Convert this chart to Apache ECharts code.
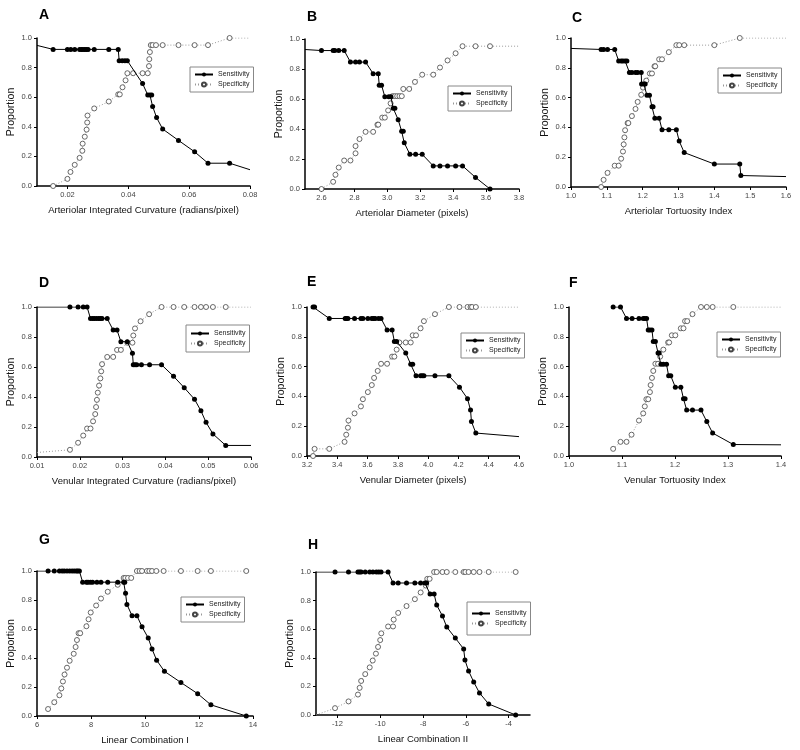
<!DOCTYPE html>
<html><head><meta charset="utf-8">
<script src="https://cdn.jsdelivr.net/npm/echarts@6/dist/echarts.min.js"></script>
<style>html,body{margin:0;padding:0;background:#fff}#c{width:800px;height:750px}</style>
</head><body><div id="c"></div>
<script>
// ---------- DATA ----------
const panelLetters = ['A','B','C','D','E','F','G','H'];
const xTitles = [
  'Arteriolar Integrated Curvature (radians/pixel)',
  'Arteriolar Diameter (pixels)',
  'Arteriolar Tortuosity Index',
  'Venular Integrated Curvature (radians/pixel)',
  'Venular Diameter (pixels)',
  'Venular Tortuosity Index',
  'Linear Combination I',
  'Linear Combination II'
];
const yTicks = [0, 0.2, 0.4, 0.6, 0.8, 1.0];

// x-axis tick labels
const ticksA = [0.02, 0.04, 0.06, 0.08];
const ticksB = [2.6, 2.8, 3.0, 3.2, 3.4, 3.6, 3.8];
const ticksC = [1.0, 1.1, 1.2, 1.3, 1.4, 1.5, 1.6];
const ticksD = [0.01, 0.02, 0.03, 0.04, 0.05, 0.06];
const ticksE = [3.2, 3.4, 3.6, 3.8, 4.0, 4.2, 4.4, 4.6];
const ticksF = [1.0, 1.1, 1.2, 1.3, 1.4];
const ticksG = [6, 8, 10, 12, 14];
const ticksH = [-12, -10, -8, -6, -4];

// Panel A
const sensA_lead = [[0.01, 0.95]];
const sensA = [[0.0153,0.923],[0.02,0.923],[0.0211,0.923],[0.0224,0.923],[0.0240,0.923],[0.0246,0.923],[0.0251,0.923],[0.0257,0.923],[0.0262,0.923],[0.0268,0.923],[0.0288,0.923],[0.0336,0.923],[0.0367,0.923],[0.0370,0.846],[0.0380,0.846],[0.0389,0.846],[0.0397,0.846],[0.0447,0.692],[0.0464,0.615],[0.0471,0.615],[0.0477,0.615],[0.048,0.538],[0.0493,0.462],[0.0513,0.385],[0.0565,0.308],[0.0618,0.231],[0.0662,0.154],[0.0733,0.154]];
const sensA_tail = [[0.08, 0.11]];
const specA_lead = [];
const specA = [[0.0153,0],[0.02,0.048],[0.021,0.095],[0.0224,0.143],[0.024,0.19],[0.0249,0.238],[0.025,0.286],[0.0257,0.333],[0.0263,0.381],[0.0265,0.429],[0.0266,0.476],[0.0288,0.524],[0.0336,0.571],[0.0367,0.619],[0.0372,0.619],[0.0381,0.667],[0.0391,0.714],[0.0397,0.762],[0.0416,0.762],[0.0447,0.762],[0.0464,0.762],[0.0468,0.81],[0.0469,0.857],[0.0471,0.905],[0.0474,0.952],[0.048,0.952],[0.0491,0.952],[0.0513,0.952],[0.0565,0.952],[0.0618,0.952],[0.0662,0.952],[0.0733,1.0]];
const specA_tail = [[0.08, 1.0]];

// Panel B
const sensB_lead = [[2.5, 0.93]];
const sensB = [[2.6,0.923],[2.671,0.923],[2.681,0.923],[2.705,0.923],[2.738,0.923],[2.776,0.846],[2.807,0.846],[2.831,0.846],[2.868,0.846],[2.914,0.769],[2.945,0.769],[2.951,0.692],[2.965,0.692],[2.985,0.615],[3.009,0.615],[3.022,0.615],[3.036,0.538],[3.046,0.538],[3.066,0.462],[3.087,0.385],[3.097,0.385],[3.103,0.308],[3.137,0.231],[3.172,0.231],[3.212,0.231],[3.279,0.154],[3.320,0.154],[3.366,0.154],[3.415,0.154],[3.457,0.154],[3.536,0.077],[3.624,0]];
const sensB_tail = [];
const specB_lead = [];
const specB = [[2.6,0],[2.671,0.048],[2.685,0.095],[2.705,0.143],[2.738,0.19],[2.776,0.19],[2.807,0.238],[2.807,0.286],[2.831,0.333],[2.868,0.381],[2.914,0.381],[2.94,0.429],[2.945,0.429],[2.969,0.476],[2.985,0.476],[3.005,0.524],[3.02,0.571],[3.032,0.619],[3.046,0.619],[3.06,0.619],[3.074,0.619],[3.088,0.619],[3.097,0.667],[3.133,0.667],[3.168,0.714],[3.212,0.762],[3.279,0.762],[3.32,0.81],[3.366,0.857],[3.415,0.905],[3.457,0.952],[3.536,0.952],[3.624,0.952]];
const specB_tail = [[3.8, 0.952]];

// Panel C
const sensC_lead = [[1.0, 0.93]];
const sensC = [[1.084,0.923],[1.091,0.923],[1.102,0.923],[1.122,0.923],[1.133,0.846],[1.140,0.846],[1.145,0.846],[1.151,0.846],[1.156,0.846],[1.163,0.769],[1.170,0.769],[1.180,0.769],[1.186,0.769],[1.196,0.769],[1.197,0.692],[1.203,0.692],[1.207,0.692],[1.212,0.615],[1.219,0.615],[1.226,0.538],[1.229,0.538],[1.234,0.462],[1.246,0.462],[1.254,0.385],[1.273,0.385],[1.294,0.385],[1.302,0.308],[1.316,0.231],[1.4,0.154],[1.471,0.154],[1.474,0.077]];
const sensC_tail = [[1.6, 0.07]];
const specC_lead = [];
const specC = [[1.084,0],[1.091,0.048],[1.102,0.095],[1.122,0.143],[1.133,0.143],[1.140,0.19],[1.145,0.238],[1.147,0.286],[1.149,0.333],[1.151,0.381],[1.158,0.429],[1.160,0.429],[1.170,0.476],[1.180,0.524],[1.186,0.571],[1.196,0.619],[1.201,0.667],[1.210,0.714],[1.220,0.762],[1.226,0.762],[1.233,0.81],[1.235,0.81],[1.246,0.857],[1.254,0.857],[1.273,0.905],[1.294,0.952],[1.302,0.952],[1.316,0.952],[1.4,0.952],[1.471,1.0]];
const specC_tail = [[1.6, 1.0]];

// Panel D
const sensD_lead = [[0.01, 1.0]];
const sensD = [[0.0177,1],[0.0196,1],[0.0208,1],[0.0217,1],[0.0225,0.923],[0.0230,0.923],[0.0234,0.923],[0.0239,0.923],[0.0244,0.923],[0.0248,0.923],[0.0252,0.923],[0.0264,0.923],[0.0278,0.846],[0.0287,0.846],[0.0296,0.769],[0.0311,0.769],[0.0323,0.692],[0.0325,0.615],[0.0329,0.615],[0.0333,0.615],[0.0344,0.615],[0.0363,0.615],[0.0391,0.615],[0.0419,0.538],[0.0444,0.462],[0.0468,0.385],[0.0483,0.308],[0.0495,0.231],[0.0511,0.154],[0.0541,0.077]];
const sensD_tail = [[0.06, 0.077]];
const specD_lead = [[0.01, 0.03]];
const specD = [[0.0177,0.048],[0.0196,0.095],[0.0208,0.143],[0.0217,0.19],[0.0225,0.19],[0.0231,0.238],[0.0236,0.286],[0.0238,0.333],[0.024,0.381],[0.0242,0.429],[0.0245,0.476],[0.0248,0.524],[0.025,0.571],[0.0252,0.619],[0.0264,0.667],[0.0278,0.667],[0.0287,0.714],[0.0296,0.714],[0.0311,0.762],[0.0323,0.762],[0.0325,0.81],[0.0329,0.857],[0.0342,0.905],[0.0362,0.952],[0.0391,1],[0.0419,1],[0.0444,1],[0.0468,1],[0.0483,1],[0.0495,1],[0.0511,1],[0.0541,1]];
const specD_tail = [[0.06, 1.0]];

// Panel E
const sensE_lead = [];
const sensE = [[3.24,1],[3.25,1],[3.347,0.923],[3.452,0.923],[3.459,0.923],[3.47,0.923],[3.514,0.923],[3.556,0.923],[3.569,0.923],[3.602,0.923],[3.628,0.923],[3.639,0.923],[3.65,0.923],[3.672,0.923],[3.689,0.923],[3.729,0.846],[3.762,0.846],[3.777,0.769],[3.792,0.769],[3.852,0.692],[3.885,0.615],[3.898,0.615],[3.92,0.538],[3.95,0.538],[3.961,0.538],[3.972,0.538],[4.045,0.538],[4.137,0.538],[4.207,0.462],[4.26,0.385],[4.28,0.308],[4.286,0.231],[4.315,0.154]];
const sensE_tail = [[4.6, 0.13]];
const specE_lead = [];
const specE = [[3.24,0],[3.25,0.048],[3.347,0.048],[3.448,0.095],[3.459,0.143],[3.47,0.19],[3.474,0.238],[3.514,0.286],[3.556,0.333],[3.569,0.381],[3.602,0.429],[3.628,0.476],[3.643,0.524],[3.667,0.571],[3.689,0.619],[3.729,0.619],[3.762,0.667],[3.777,0.667],[3.792,0.714],[3.81,0.762],[3.852,0.762],[3.885,0.762],[3.898,0.81],[3.92,0.81],[3.95,0.857],[3.972,0.905],[4.045,0.952],[4.137,1],[4.207,1],[4.26,1],[4.28,1],[4.29,1],[4.315,1]];
const specE_tail = [[4.6, 1.0]];

// Panel F
const sensF_lead = [];
const sensF = [[1.0833,1],[1.0972,1],[1.1085,0.923],[1.119,0.923],[1.132,0.923],[1.140,0.923],[1.143,0.923],[1.1464,0.923],[1.1495,0.846],[1.1527,0.846],[1.1565,0.846],[1.159,0.769],[1.163,0.769],[1.168,0.692],[1.170,0.692],[1.1735,0.615],[1.178,0.615],[1.184,0.615],[1.188,0.538],[1.192,0.538],[1.2006,0.462],[1.211,0.462],[1.216,0.385],[1.219,0.385],[1.222,0.308],[1.233,0.308],[1.249,0.308],[1.26,0.231],[1.271,0.154],[1.31,0.077]];
const sensF_tail = [[1.4, 0.075]];
const specF_lead = [];
const specF = [[1.0833,0.048],[1.0972,0.095],[1.1085,0.095],[1.118,0.143],[1.132,0.238],[1.140,0.286],[1.143,0.333],[1.146,0.381],[1.1495,0.381],[1.1527,0.429],[1.154,0.476],[1.1565,0.524],[1.159,0.571],[1.163,0.619],[1.168,0.619],[1.172,0.667],[1.178,0.714],[1.187,0.762],[1.189,0.762],[1.194,0.81],[1.2006,0.81],[1.211,0.857],[1.216,0.857],[1.219,0.905],[1.223,0.905],[1.233,0.952],[1.249,1],[1.26,1],[1.271,1],[1.31,1]];
const specF_tail = [[1.4, 1.0]];

// Panel G
const sensG_lead = [[6, 1.0]];
const sensG = [[6.41,1],[6.64,1],[6.83,1],[6.93,1],[7.01,1],[7.11,1],[7.21,1],[7.30,1],[7.38,1],[7.46,1],[7.51,1],[7.57,1],[7.69,0.923],[7.83,0.923],[7.89,0.923],[7.98,0.923],[8.06,0.923],[8.22,0.923],[8.37,0.923],[8.62,0.923],[8.99,0.923],[9.21,0.923],[9.25,0.923],[9.28,0.846],[9.33,0.769],[9.52,0.692],[9.70,0.692],[9.89,0.615],[10.12,0.538],[10.26,0.462],[10.43,0.385],[10.72,0.308],[11.33,0.231],[11.95,0.154],[12.44,0.077],[13.75,0]];
const sensG_tail = [];
const specG_lead = [];
const specG = [[6.41,0.048],[6.64,0.095],[6.83,0.143],[6.90,0.19],[6.96,0.238],[7.02,0.286],[7.11,0.333],[7.21,0.381],[7.36,0.429],[7.43,0.476],[7.48,0.524],[7.54,0.571],[7.60,0.571],[7.83,0.619],[7.91,0.667],[7.99,0.714],[8.19,0.762],[8.37,0.81],[8.62,0.857],[8.99,0.905],[9.21,0.952],[9.27,0.952],[9.37,0.952],[9.49,0.952],[9.70,1],[9.80,1],[9.89,1],[10.07,1],[10.16,1],[10.26,1],[10.42,1],[10.69,1],[11.33,1],[11.95,1],[12.44,1],[13.75,1]];
const specG_tail = [];

// Panel H
const sensH_lead = [[-13, 1.0]];
const sensH = [[-12.11,1],[-11.48,1],[-11.04,1],[-10.96,1],[-10.89,1],[-10.70,1],[-10.49,1],[-10.34,1],[-10.18,1],[-10.07,1],[-9.96,1],[-9.63,1],[-9.40,0.923],[-9.16,0.923],[-8.77,0.923],[-8.38,0.923],[-8.11,0.923],[-7.91,0.923],[-7.83,0.923],[-7.67,0.846],[-7.48,0.846],[-7.36,0.769],[-7.09,0.692],[-6.89,0.615],[-6.49,0.538],[-6.10,0.462],[-6.04,0.385],[-5.87,0.308],[-5.63,0.231],[-5.36,0.154],[-4.93,0.077],[-3.67,0]];
const sensH_tail = [];
const specH_lead = [[-13, 0.0]];
const specH = [[-12.11,0.048],[-11.48,0.095],[-11.04,0.143],[-10.96,0.19],[-10.89,0.238],[-10.70,0.286],[-10.49,0.333],[-10.35,0.381],[-10.20,0.429],[-10.10,0.476],[-10.0,0.524],[-9.95,0.571],[-9.63,0.619],[-9.40,0.619],[-9.37,0.667],[-9.16,0.714],[-8.77,0.762],[-8.38,0.81],[-8.11,0.857],[-7.87,0.905],[-7.80,0.952],[-7.69,0.952],[-7.48,1],[-7.36,1],[-7.09,1],[-6.89,1],[-6.49,1],[-6.10,1],[-6.02,1],[-5.87,1],[-5.63,1],[-5.36,1],[-4.93,1],[-3.67,1]];
const specH_tail = [];

// ---------- LAYOUT (positions/styles) ----------
const layout = [
  {grid:{left:37,top:38,width:213,height:148}, letter:[39,8], legend:[190,67,[3,4]], xr:[0.01,0.08], dec:2, ticks:ticksA,
   sens:[sensA_lead,sensA,sensA_tail], spec:[specA_lead,specA,specA_tail]},
  {grid:{left:305,top:39,width:214,height:150}, letter:[307,10], legend:[448,86,[3,4]], xr:[2.5,3.8], dec:1, ticks:ticksB,
   sens:[sensB_lead,sensB,sensB_tail], spec:[specB_lead,specB,specB_tail]},
  {grid:{left:571,top:38,width:215,height:149}, letter:[572,11], legend:[718,68,[3,4]], xr:[1.0,1.6], dec:1, ticks:ticksC,
   sens:[sensC_lead,sensC,sensC_tail], spec:[specC_lead,specC,specC_tail]},
  {grid:{left:37,top:307,width:214,height:150}, letter:[39,276], legend:[186,325,[4,4]], xr:[0.01,0.06], dec:2, ticks:ticksD,
   sens:[sensD_lead,sensD,sensD_tail], spec:[specD_lead,specD,specD_tail]},
  {grid:{left:307,top:307,width:212,height:149}, letter:[307,275], legend:[461,333,[3,4]], xr:[3.2,4.6], dec:1, ticks:ticksE,
   sens:[sensE_lead,sensE,sensE_tail], spec:[specE_lead,specE,specE_tail]},
  {grid:{left:569,top:307,width:212,height:149}, letter:[569,276], legend:[717,332,[3,4]], xr:[1.0,1.4], dec:1, ticks:ticksF,
   sens:[sensF_lead,sensF,sensF_tail], spec:[specF_lead,specF,specF_tail]},
  {grid:{left:37,top:571,width:216,height:145}, letter:[39,533], legend:[181,597,[3,4]], xr:[6,14], dec:0, ticks:ticksG,
   sens:[sensG_lead,sensG,sensG_tail], spec:[specG_lead,specG,specG_tail]},
  {grid:{left:316,top:572,width:214,height:143}, letter:[308,538], legend:[467,602,[7,4]], xr:[-13,-3], dec:0, ticks:ticksH,
   sens:[sensH_lead,sensH,sensH_tail], spec:[specH_lead,specH,specH_tail]}
];

const FONT = 'Liberation Sans, Arial, sans-serif';
function build(parts) {
  const [lead, pts, tail] = parts;
  return lead.map(p => ({value: p, symbol: 'none'}))
    .concat(pts.map(p => ({value: p})))
    .concat(tail.map(p => ({value: p, symbol: 'none'})));
}

const option = {
  backgroundColor: '#fff',
  animation: false,
  title: [], grid: [], xAxis: [], yAxis: [], legend: [], series: []
};

layout.forEach((L, i) => {
  option.title.push({
    text: panelLetters[i], left: L.letter[0], top: L.letter[1], padding: 0,
    textStyle: {fontFamily: FONT, fontSize: 14, fontWeight: 'bold', color: '#000'}
  });
  option.grid.push(Object.assign({containLabel: false}, L.grid));
  option.xAxis.push({
    type: 'value', gridIndex: i, min: L.xr[0], max: L.xr[1],
    name: xTitles[i], nameLocation: 'middle', nameGap: 19,
    nameTextStyle: {fontFamily: FONT, fontSize: 9.5, color: '#111'},
    axisLine: {show: true, onZero: false, lineStyle: {color: '#000', width: 1.5}},
    axisTick: {show: true, length: 3, customValues: L.ticks, lineStyle: {color: '#000'}},
    axisLabel: {customValues: L.ticks, fontFamily: FONT, fontSize: 7.5, color: '#444', margin: 5,
      formatter: v => Number(v).toFixed(L.dec)},
    splitLine: {show: false}
  });
  option.yAxis.push({
    type: 'value', gridIndex: i, min: 0, max: 1, interval: 0.2,
    name: 'Proportion', nameLocation: 'middle', nameGap: 20,
    nameTextStyle: {fontFamily: FONT, fontSize: 10.5, color: '#111'},
    axisLine: {show: true, onZero: false, lineStyle: {color: '#000', width: 1.5}},
    axisTick: {show: true, length: 3, lineStyle: {color: '#000'}},
    axisLabel: {customValues: yTicks, fontFamily: FONT, fontSize: 7.5, color: '#444', margin: 5,
      formatter: v => Number(v).toFixed(1)},
    splitLine: {show: false}
  });
  option.legend.push({
    left: L.legend[0], top: L.legend[1], orient: 'vertical',
    data: ['Sensitivity', 'Specificity'],
    padding: L.legend[2], itemGap: 1, itemWidth: 18, itemHeight: 5,
    borderColor: '#888', borderWidth: 1, backgroundColor: '#fff',
    textStyle: {fontFamily: FONT, fontSize: 7, color: '#222', lineHeight: 9},
    selectedMode: false
  });
  option.series.push({
    name: 'Sensitivity', type: 'line', xAxisIndex: i, yAxisIndex: i,
    data: build(L.sens), symbol: 'circle', symbolSize: 5, showSymbol: true,
    lineStyle: {color: '#000', width: 1},
    itemStyle: {color: '#000', borderColor: '#000', borderWidth: 0},
    z: 3, silent: true
  });
  option.series.push({
    name: 'Specificity', type: 'line', xAxisIndex: i, yAxisIndex: i,
    data: build(L.spec), symbol: 'circle', symbolSize: 5, showSymbol: true,
    lineStyle: {color: '#999', width: 1, type: [1, 2]},
    itemStyle: {color: '#fff', borderColor: '#444', borderWidth: 0.8},
    z: 2, silent: true
  });
});

const chart = echarts.init(document.getElementById('c'), null, {renderer: 'canvas'});
chart.setOption(option);
</script></body></html>
